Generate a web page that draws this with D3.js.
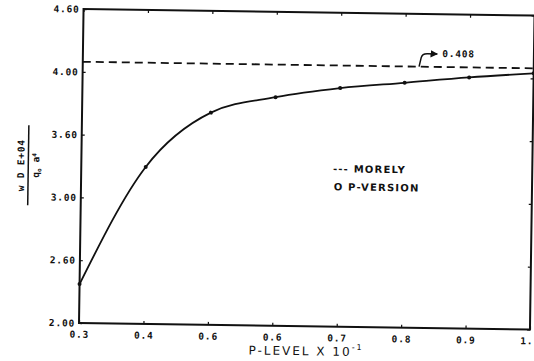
<!DOCTYPE html>
<html>
<head>
<meta charset="utf-8">
<script src="https://cdn.jsdelivr.net/npm/d3@7"></script>
<style>
  body { margin: 0; background: #fff; }
  svg { display: block; }
</style>
</head>
<body>
<div id="chart"></div>
<script>
// values
const pLevels = [0.3, 0.4, 0.5, 0.6, 0.7, 0.8, 0.9, 1.0];
const pVersion = [2.31, 3.25, 3.69, 3.82, 3.90, 3.95, 4.00, 4.04];
const morely = 4.08;
const morelyLabel = '0.408';
const xTickValues = [0.3, 0.4, 0.5, 0.6, 0.7, 0.8, 0.9, 1.0];
const xTickLabels = ['0.3', '0.4', '0.6', '0.6', '0.7', '0.8', '0.9', '1.'];
const yTickValues = [2.0, 2.5, 3.0, 3.5, 4.0, 4.5];
const yTickLabels = ['2.00', '2.60', '3.00', '3.60', '4.00', '4.60'];

const W = 534, H = 361;
const margin = { left: 79, right: 4, top: 9, bottom: 38 };
const width = W - margin.left - margin.right;
const height = H - margin.top - margin.bottom;
const ink = '#111';
const mono = '"DejaVu Sans Mono", monospace';
const sans = '"DejaVu Sans", sans-serif';

const svg = d3.select('#chart').append('svg')
    .attr('width', W)
    .attr('height', H);

// the scan is a little skewed, so the whole figure is turned slightly
const root = svg.append('g')
    .attr('transform', `rotate(0.83, ${margin.left}, ${margin.top + height})`);

const g = root.append('g')
    .attr('transform', `translate(${margin.left}, ${margin.top})`);

const x = d3.scaleLinear().domain([0.3, 1.0]).range([0, width]);
const y = d3.scaleLinear().domain([2.0, 4.5]).range([height, 0]);

// axes with ticks pointing inwards
const xAxis = g.append('g')
    .attr('transform', `translate(0, ${height})`)
    .call(d3.axisBottom(x)
        .tickValues(xTickValues)
        .tickSizeInner(-3).tickSizeOuter(0)
        .tickPadding(8)
        .tickFormat((d, i) => xTickLabels[i]));

g.append('g')
    .call(d3.axisLeft(y)
        .tickValues(yTickValues)
        .tickSizeInner(-3).tickSizeOuter(0)
        .tickPadding(4)
        .tickFormat((d, i) => yTickLabels[i]));

g.append('g')
    .call(d3.axisTop(x).tickValues(xTickValues).tickSizeInner(-3).tickSizeOuter(0).tickFormat(''));
g.append('g')
    .attr('transform', `translate(${width}, 0)`)
    .call(d3.axisRight(y).tickValues(yTickValues).tickSizeInner(-3).tickSizeOuter(0).tickFormat(''));

g.selectAll('.domain').remove();
g.selectAll('.tick line').attr('stroke', ink).attr('stroke-width', 1.2);
g.selectAll('.tick text')
    .attr('fill', ink)
    .style('font-family', mono)
    .style('font-weight', 'bold')
    .style('font-size', '9.5px')
    .style('letter-spacing', '0.8px');

// last x label sits at the page edge, keep it inside
xAxis.selectAll('.tick text')
    .filter(d => d === 1.0)
    .attr('text-anchor', 'end')
    .attr('dx', 3);

// frame
g.append('rect')
    .attr('width', width)
    .attr('height', height)
    .attr('fill', 'none')
    .attr('stroke', ink)
    .attr('stroke-width', 2);

// Morely reference line
g.append('line')
    .attr('x1', x(0.3)).attr('x2', x(1.0))
    .attr('y1', y(morely)).attr('y2', y(morely))
    .attr('stroke', ink)
    .attr('stroke-width', 1.8)
    .attr('stroke-dasharray', '8,5');

// P-version curve
const line = d3.line()
    .x((d, i) => x(pLevels[i]))
    .y(d => y(d))
    .curve(d3.curveMonotoneX);

g.append('path')
    .datum(pVersion)
    .attr('fill', 'none')
    .attr('stroke', ink)
    .attr('stroke-width', 1.8)
    .attr('d', line);

g.selectAll('.pt')
    .data(pVersion)
    .join('circle')
    .attr('class', 'pt')
    .attr('cx', (d, i) => x(pLevels[i]))
    .attr('cy', d => y(d))
    .attr('r', 2)
    .attr('fill', ink);

// arrow annotation for the Morely value
svg.append('defs').append('marker')
    .attr('id', 'head')
    .attr('viewBox', '0 0 10 10')
    .attr('refX', 9).attr('refY', 5)
    .attr('markerWidth', 5).attr('markerHeight', 5)
    .attr('orient', 'auto')
    .append('path')
    .attr('d', 'M0,0 L10,5 L0,10 Z')
    .attr('fill', ink);

const ax = x(0.822), ay = y(morely);
g.append('path')
    .attr('d', `M${ax},${ay} L${ax + 2},${ay - 9} Q${ax + 3},${ay - 13} ${ax + 8},${ay - 13} L${ax + 18},${ay - 13}`)
    .attr('fill', 'none')
    .attr('stroke', ink)
    .attr('stroke-width', 1.5)
    .attr('marker-end', 'url(#head)');

g.append('text')
    .attr('x', ax + 23)
    .attr('y', ay - 10)
    .attr('fill', ink)
    .style('font-family', mono)
    .style('font-weight', 'bold')
    .style('font-size', '9.5px')
    .style('letter-spacing', '0.8px')
    .text(morelyLabel);

// legend
const legend = g.append('g')
    .attr('transform', `translate(${x(0.7) - 6}, ${y(3.5) + 30})`);

legend.append('text')
    .attr('x', 0).attr('y', 4)
    .attr('fill', ink)
    .style('font-family', sans)
    .style('font-weight', 'bold')
    .style('font-size', '10px')
    .style('letter-spacing', '1.2px')
    .text('--- MORELY');

legend.append('text')
    .attr('x', 1).attr('y', 22)
    .attr('fill', ink)
    .style('font-family', sans)
    .style('font-weight', 'bold')
    .style('font-size', '10px')
    .style('letter-spacing', '1.2px')
    .text('O P-VERSION');

// x axis title
const xTitle = root.append('text')
    .attr('x', margin.left + width / 2 + 2)
    .attr('y', H - 9)
    .attr('text-anchor', 'middle')
    .attr('fill', ink)
    .style('font-family', sans)
    .style('font-size', '12px')
    .style('letter-spacing', '2px');
xTitle.append('tspan').text('P-LEVEL X 10');
xTitle.append('tspan')
    .attr('dy', -6)
    .style('font-size', '8px')
    .text('-1');

// y axis title, drawn as a fraction
const yTitle = root.append('g')
    .attr('transform', `translate(26, ${margin.top + y(3.25)}) rotate(-90)`);

yTitle.append('text')
    .attr('x', 0).attr('y', -4)
    .attr('text-anchor', 'middle')
    .attr('fill', ink)
    .style('font-family', mono)
    .style('font-weight', 'bold')
    .style('font-size', '9.5px')
    .style('letter-spacing', '0.8px')
    .text('w D E+04');

yTitle.append('line')
    .attr('x1', -40).attr('x2', 40)
    .attr('stroke', ink)
    .attr('stroke-width', 1.5);

const denom = yTitle.append('text')
    .attr('x', 0).attr('y', 11)
    .attr('text-anchor', 'middle')
    .attr('fill', ink)
    .style('font-family', mono)
    .style('font-weight', 'bold')
    .style('font-size', '9.5px');
denom.append('tspan').text('q');
denom.append('tspan').attr('dy', 2).style('font-size', '6px').text('o');
denom.append('tspan').attr('dy', -2).text(' a');
denom.append('tspan').attr('dy', -3).style('font-size', '6px').text('4');
</script>
</body>
</html>
